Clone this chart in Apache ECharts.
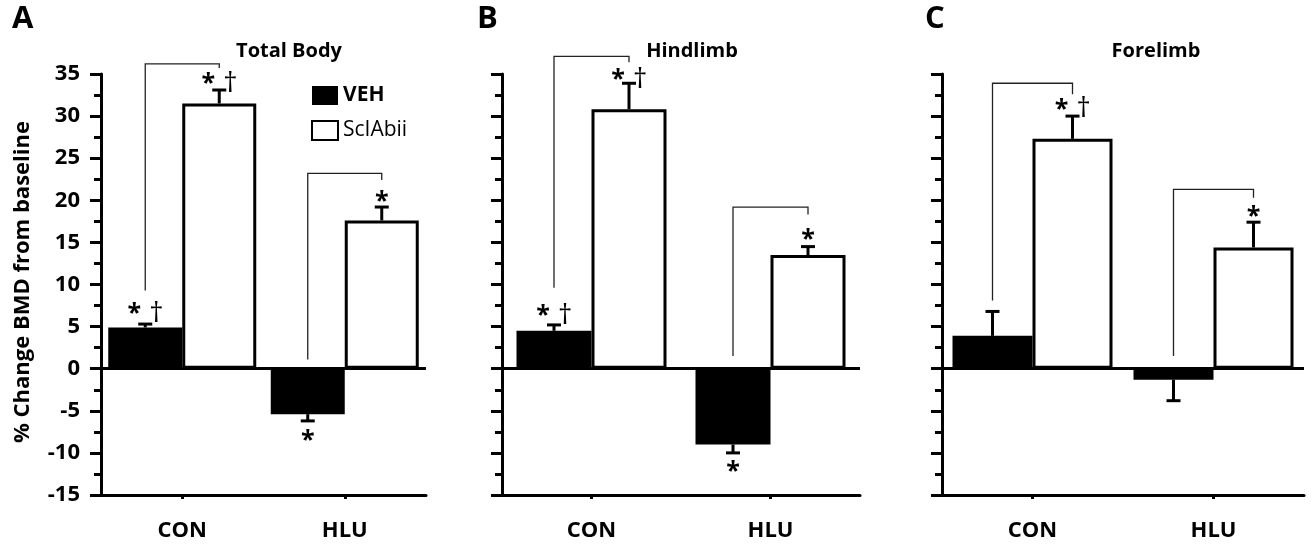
<!DOCTYPE html>
<html><head><meta charset="utf-8">
<script src="https://cdn.jsdelivr.net/npm/echarts@6/dist/echarts.min.js"></script>
<style>html,body{margin:0;padding:0;background:#fff}#c{width:1311px;height:546px}</style>
</head><body><div id="c"></div>
<script>
// ---------- data ----------
const categories = ['CON', 'HLU'];
const seriesNames = ['VEH', 'ScIAbii'];
const panelLetters = ['A', 'B', 'C'];
const panelTitles = ['Total Body', 'Hindlimb', 'Forelimb'];
const yAxisTitle = '% Change BMD from baseline';
const yMin = -15, yMax = 35, yStep = 5;

const vehTotal = [4.9, -5.4];
const vehTotalErr = [0.4, 0.8];
const sclTotal = [31.5, 17.6];
const sclTotalErr = [1.6, 1.6];

const vehHind = [4.5, -9.0];
const vehHindErr = [0.7, 1.0];
const sclHind = [30.8, 13.5];
const sclHindErr = [3.1, 1.0];

const vehFore = [3.9, -1.3];
const vehForeErr = [2.9, 2.5];
const sclFore = [27.3, 14.4];
const sclForeErr = [2.7, 3.0];

// brackets: [category, top, left leg bottom, right leg bottom]
const bracketsTotal = [[0, 36.2, 9.3, 35.7], [1, 23.2, 1.1, 22.4]];
const bracketsHind = [[0, 37.1, 9.6, 36.4], [1, 19.2, 1.5, 18.3]];
const bracketsFore = [[0, 33.9, 8.1, 32.6], [1, 21.3, 1.5, 20.3]];

// significance marks: [category, series (0 VEH, 1 ScIAbii), value, dagger (1/0)]
const marksTotal = [[0, 0, 7.2, 1], [0, 1, 34.5, 1], [1, 0, -7.8, 0], [1, 1, 20.5, 0]];
const marksHind = [[0, 0, 7.0, 1], [0, 1, 35.0, 1], [1, 0, -11.5, 0], [1, 1, 16.0, 0]];
const marksFore = [[0, 1, 31.5, 1], [1, 1, 18.8, 0]];

const panels = [
  {veh: vehTotal, vehErr: vehTotalErr, scl: sclTotal, sclErr: sclTotalErr, br: bracketsTotal, mk: marksTotal},
  {veh: vehHind, vehErr: vehHindErr, scl: sclHind, sclErr: sclHindErr, br: bracketsHind, mk: marksHind},
  {veh: vehFore, vehErr: vehForeErr, scl: sclFore, sclErr: sclForeErr, br: bracketsFore, mk: marksFore}
];

// ---------- layout ----------
const FONT = '"Open Sans"';
const layout = [
  {left: 101, width: 325, barW: 74, letterX: 25, titleX: 289},
  {left: 502, width: 358, barW: 75, letterX: 490, titleX: 692},
  {left: 942, width: 362, barW: 80, letterX: 938, titleX: 1156}
];
const gridTop = 74, gridBottom = 51;

const grids = [], xAxes = [], yAxes = [], series = [], graphics = [];

function errRender(side, barW) {
  return function (params, api) {
    const cat = api.value(0), v = api.value(1), e = api.value(2);
    const dir = v >= 0 ? 1 : -1;
    const p0 = api.coord([cat, v]);
    const p1 = api.coord([cat, v + dir * e]);
    const x = p0[0] + (side === 0 ? -barW / 2 : barW / 2);
    const cap = 7;
    return {type: 'group', children: [
      {type: 'line', shape: {x1: x, y1: p0[1], x2: x, y2: p1[1]}, style: {stroke: '#000', lineWidth: 3}},
      {type: 'line', shape: {x1: x - cap, y1: p1[1], x2: x + cap, y2: p1[1]}, style: {stroke: '#000', lineWidth: 3}}
    ]};
  };
}
function bracketRender(barW) {
  return function (params, api) {
    const cat = api.value(0);
    const c = api.coord([cat, api.value(1)]);
    const xl = c[0] - barW / 2, xr = c[0] + barW / 2;
    const yl = api.coord([cat, api.value(2)])[1];
    const yr = api.coord([cat, api.value(3)])[1];
    return {type: 'polyline', shape: {points: [[xl, yl], [xl, c[1]], [xr, c[1]], [xr, yr]]},
      style: {stroke: '#222', lineWidth: 1.3, fill: null}};
  };
}
function markRender(barW) {
  return function (params, api) {
    const cat = api.value(0), s = api.value(1), v = api.value(2), dg = api.value(3);
    const c = api.coord([cat, v]);
    const x = c[0] + (s === 0 ? -barW / 2 : barW / 2);
    const children = [{type: 'text', x: x + (dg ? -11 : 0), y: c[1] + 6,
      style: {text: '*', font: 'bold 25px ' + FONT, fill: '#000', textAlign: 'center', textVerticalAlign: 'middle'}}];
    if (dg) children.push({type: 'text', x: x + 11, y: c[1] + 6,
      style: {text: '\u2020', font: '28px ' + FONT, fill: '#000', textAlign: 'center', textVerticalAlign: 'middle'}});
    return {type: 'group', children: children};
  };
}

panels.forEach((pd, i) => {
  const L = layout[i];
  grids.push({left: L.left, width: L.width, top: gridTop, bottom: gridBottom, containLabel: false});
  xAxes.push({type: 'category', gridIndex: i, data: categories,
    axisLine: {onZero: false, lineStyle: {color: '#000', width: 3}},
    axisTick: {show: true, alignWithLabel: true, length: 4, lineStyle: {color: '#000', width: 3}},
    axisLabel: {color: '#000', fontFamily: FONT, fontWeight: 'bold', fontSize: 22, margin: 25},
    splitLine: {show: false}});
  yAxes.push({type: 'value', gridIndex: i, min: yMin, max: yMax, interval: yStep,
    axisLine: {show: true, lineStyle: {color: '#000', width: 3}},
    axisTick: {show: true, length: 11, lineStyle: {color: '#000', width: 3}},
    minorTick: {show: true, splitNumber: 2, length: 7, lineStyle: {color: '#000', width: 3}},
    axisLabel: {show: i === 0, color: '#000', fontFamily: FONT, fontWeight: 'bold', fontSize: 22, margin: 21},
    splitLine: {show: false}});
  series.push({type: 'bar', name: seriesNames[0], xAxisIndex: i, yAxisIndex: i, data: pd.veh,
    barWidth: L.barW, barGap: '0%', itemStyle: {color: '#000'}, z: 2,
    markLine: {silent: true, symbol: 'none', label: {show: false}, animation: false,
      lineStyle: {color: '#000', width: 3, type: 'solid'}, data: [{yAxis: 0}]}});
  series.push({type: 'bar', name: seriesNames[1], xAxisIndex: i, yAxisIndex: i, data: pd.scl,
    barWidth: L.barW, barGap: '0%', itemStyle: {color: '#fff', borderColor: '#000', borderWidth: 3}, z: 3});
  series.push({type: 'custom', xAxisIndex: i, yAxisIndex: i, z: 4, silent: true,
    data: categories.map((c, k) => [k, pd.veh[k], pd.vehErr[k]]), renderItem: errRender(0, L.barW)});
  series.push({type: 'custom', xAxisIndex: i, yAxisIndex: i, z: 4, silent: true,
    data: categories.map((c, k) => [k, pd.scl[k], pd.sclErr[k]]), renderItem: errRender(1, L.barW)});
  series.push({type: 'custom', xAxisIndex: i, yAxisIndex: i, z: 5, silent: true, clip: false,
    data: pd.br, renderItem: bracketRender(L.barW)});
  series.push({type: 'custom', xAxisIndex: i, yAxisIndex: i, z: 5, silent: true, clip: false,
    data: pd.mk, renderItem: markRender(L.barW)});
  graphics.push({type: 'text', left: L.letterX - 13, top: 4,
    style: {text: panelLetters[i], font: 'bold 31px ' + FONT, fill: '#000'}});
  graphics.push({type: 'text', x: L.titleX, y: 51,
    style: {text: panelTitles[i], font: 'bold 20px ' + FONT, fill: '#000', textAlign: 'center', textVerticalAlign: 'middle'}});
});
graphics.push({type: 'text', x: 23, y: 282, rotation: Math.PI / 2,
  style: {text: yAxisTitle, font: 'bold 22px ' + FONT, fill: '#000', textAlign: 'center', textVerticalAlign: 'middle'}});

const chart = echarts.init(document.getElementById('c'), null, {renderer: 'canvas'});
chart.setOption({
  animation: false,
  backgroundColor: '#fff',
  grid: grids, xAxis: xAxes, yAxis: yAxes, series: series, graphic: graphics,
  legend: {left: 306, top: 80, orient: 'vertical', itemWidth: 26, itemHeight: 19, itemGap: 14,
    icon: 'rect', data: seriesNames,
    formatter: n => n === 'VEH' ? '{b|' + n + '}' : '{n|' + n + '}',
    textStyle: {rich: {
      b: {fontFamily: FONT, fontWeight: 'bold', fontSize: 21, color: '#000'},
      n: {fontFamily: FONT, fontSize: 21, color: '#000'}}}}
});
</script></body></html>
